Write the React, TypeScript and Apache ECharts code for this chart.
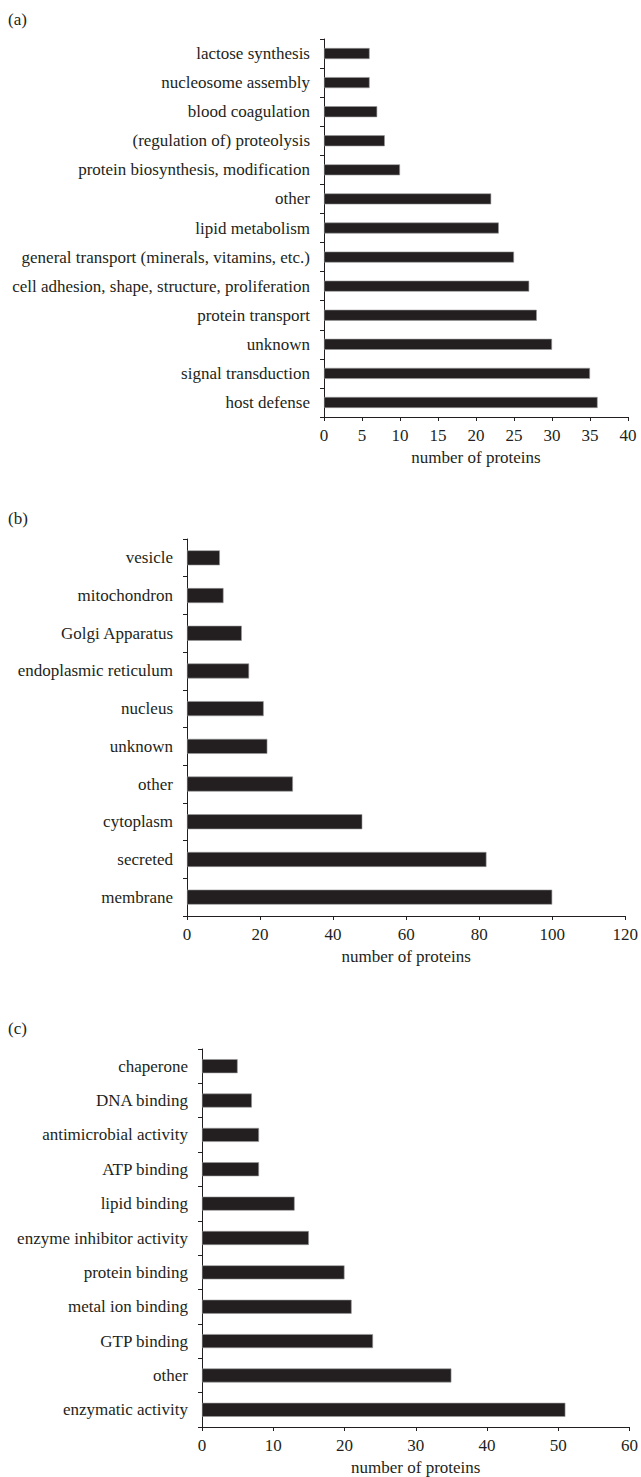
import React, { useEffect, useRef } from "react";
import * as echarts from "echarts";

const catsA = [
  "lactose synthesis",
  "nucleosome assembly",
  "blood coagulation",
  "(regulation of) proteolysis",
  "protein biosynthesis, modification",
  "other",
  "lipid metabolism",
  "general transport (minerals, vitamins, etc.)",
  "cell adhesion, shape, structure, proliferation",
  "protein transport",
  "unknown",
  "signal transduction",
  "host defense",
];
const valsA = [6, 6, 7, 8, 10, 22, 23, 25, 27, 28, 30, 35, 36];

const catsB = [
  "vesicle",
  "mitochondron",
  "Golgi Apparatus",
  "endoplasmic reticulum",
  "nucleus",
  "unknown",
  "other",
  "cytoplasm",
  "secreted",
  "membrane",
];
const valsB = [9, 10, 15, 17, 21, 22, 29, 48, 82, 100];

const catsC = [
  "chaperone",
  "DNA binding",
  "antimicrobial activity",
  "ATP binding",
  "lipid binding",
  "enzyme inhibitor activity",
  "protein binding",
  "metal ion binding",
  "GTP binding",
  "other",
  "enzymatic activity",
];
const valsC = [5, 7, 8, 8, 13, 15, 20, 21, 24, 35, 51];

const panelLabels = ["(a)", "(b)", "(c)"];
const axisName = "number of proteins";

const INK = "#231f20";
const FONT = "'Liberation Serif', 'Times New Roman', serif";

export default function App() {
  const ref = useRef<HTMLDivElement>(null);
  useEffect(() => {
    if (!ref.current) return;
    const chart = echarts.init(ref.current, undefined, { renderer: "svg" });
    const grids = [
      { left: 324, top: 39, width: 304, height: 378 },
      { left: 187, top: 539, width: 440, height: 377 },
      { left: 202, top: 1049, width: 430, height: 378 },
    ];
    const xCfg = [
      { max: 40, interval: 5 },
      { max: 120, interval: 20 },
      { max: 60, interval: 10 },
    ];
    const cats = [catsA, catsB, catsC];
    const vals = [valsA, valsB, valsC];
    const barW = [11, 15, 14];
    const labelTop = [11, 510, 1020];

    const option: any = {
      animation: false,
      backgroundColor: "#fff",
      textStyle: { fontFamily: FONT, color: INK },
      grid: grids.map((g) => ({ ...g, containLabel: false })),
      xAxis: xCfg.map((c, i) => ({
        type: "value",
        gridIndex: i,
        min: 0,
        max: c.max,
        interval: c.interval,
        name: axisName,
        nameLocation: "middle",
        nameGap: 32,
        nameTextStyle: { fontFamily: FONT, fontSize: 17, color: INK },
        axisLine: { show: true, lineStyle: { color: INK, width: 1 } },
        axisTick: { show: true, length: 4, lineStyle: { color: INK } },
        axisLabel: { fontFamily: FONT, fontSize: 17, color: INK, margin: 10 },
        splitLine: { show: false },
      })),
      yAxis: cats.map((c, i) => ({
        type: "category",
        gridIndex: i,
        data: c,
        inverse: true,
        axisLine: { show: true, lineStyle: { color: INK, width: 1 } },
        axisTick: { show: true, length: 4, lineStyle: { color: INK } },
        axisLabel: { fontFamily: FONT, fontSize: 17, color: INK, margin: 14 },
        splitLine: { show: false },
      })),
      series: vals.map((v, i) => ({
        type: "bar",
        xAxisIndex: i,
        yAxisIndex: i,
        data: v,
        barWidth: barW[i],
        itemStyle: { color: INK, borderColor: "#9a9a9a", borderWidth: 0.6 },
      })),
      graphic: panelLabels.map((t, i) => ({
        type: "text",
        left: 8,
        top: labelTop[i],
        style: { text: t, font: `17px ${FONT}`, fill: INK },
      })),
    };
    chart.setOption(option);
    return () => chart.dispose();
  }, []);
  return (
    <div
      ref={ref}
      style={{ position: "absolute", left: 0, top: 0, width: 641, height: 1477 }}
    />
  );
}
